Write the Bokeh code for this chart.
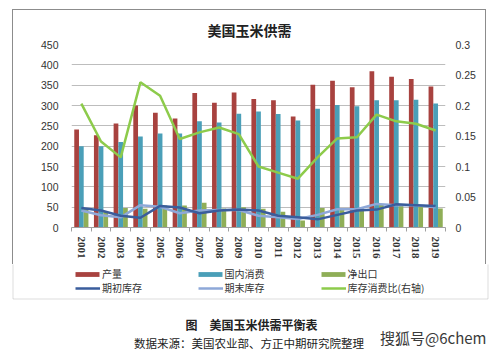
from bokeh.plotting import figure
from bokeh.models import (Range1d, LinearAxis, FixedTicker, NumeralTickFormatter, Label,
                          Legend, LegendItem, ColumnDataSource, BoxAnnotation)
from bokeh.transform import dodge
from bokeh.embed import file_html
from bokeh.resources import INLINE

# ---- data ----
years = ["2001", "2002", "2003", "2004", "2005", "2006", "2007", "2008", "2009", "2010",
         "2011", "2012", "2013", "2014", "2015", "2016", "2017", "2018", "2019"]
production = [241, 227, 256, 300, 282, 268, 331, 307, 332, 316, 313, 273, 351, 361, 345, 384, 371, 365, 347]
consumption = [200, 200, 210, 224, 231, 231, 261, 258, 280, 285, 279, 263, 292, 301, 298, 313, 313, 314, 305]
net_exports = [48, 40, 48, 46, 54, 54, 61, 47, 50, 46, 39, 17, 48, 46, 47, 57, 58, 51, 47]
begin_stocks = [48, 42, 29, 24, 53, 49, 35, 42, 44, 42, 29, 25, 20, 31, 42, 44, 57, 55, 53]
end_stocks = [42, 30, 25, 55, 51, 35, 42, 43, 43, 29, 25, 21, 31, 45, 45, 58, 55, 55, 50]
stock_ratio = [0.203, 0.141, 0.115, 0.238, 0.216, 0.145, 0.156, 0.164, 0.153, 0.100,
               0.090, 0.080, 0.115, 0.146, 0.148, 0.185, 0.174, 0.170, 0.159]
left_ticks = [0, 50, 100, 150, 200, 250, 300, 350, 400, 450]
right_ticks = [0, 0.05, 0.1, 0.15, 0.2, 0.25, 0.3]
series_names = ["产量", "国内消费", "净出口", "期初库存", "期末库存", "库存消费比(右轴)"]

idx = list(range(len(years)))
src = ColumnDataSource(dict(x=idx, production=production, consumption=consumption,
                            net_exports=net_exports, begin=begin_stocks, end=end_stocks,
                            ratio=stock_ratio))

RED = "#A8423F"
TEAL = "#4A9FB8"
OLIVE = "#8FAE57"
DBLUE = "#3A5D9C"
LBLUE = "#8EA8D8"
LGREEN = "#8DCB4B"
BORDER = "#8C8C8C"
TXT = "#333333"
NUMFONT = "Liberation Sans"
CJK = "Noto Sans CJK SC"

# ---------------- chart (upper part of the grey box) ----------------
p = figure(width=474, height=255, output_backend="svg", toolbar_location=None,
           x_range=Range1d(-0.5, len(years) - 0.5), y_range=Range1d(0, 450),
           min_border_left=58, min_border_right=42, min_border_top=34, min_border_bottom=38,
           styles={"border-top": "1px solid " + BORDER, "border-left": "1px solid " + BORDER,
                   "border-right": "1px solid " + BORDER},
           margin=(9, 0, 0, 12))
p.extra_y_ranges = {"r": Range1d(0, 0.3)}
p.outline_line_color = None
p.background_fill_color = "white"
p.border_fill_color = "white"

p.title.text = "美国玉米供需"
p.title.align = "left"
p.title.offset = 136
p.title.standoff = 9
p.title.text_font = CJK
p.title.text_font_size = "14px"
p.title.text_font_style = "bold"
p.title.text_color = "#222222"

ax = p.yaxis[0]
ax.ticker = FixedTicker(ticks=left_ticks)
ax.axis_line_color = None
ax.major_tick_line_color = None
ax.minor_tick_line_color = None
ax.major_tick_out = 0
ax.major_label_standoff = 13
ax.major_label_text_font = NUMFONT
ax.major_label_text_font_size = "10.5px"
ax.major_label_text_color = TXT

rax = LinearAxis(y_range_name="r", ticker=FixedTicker(ticks=right_ticks),
                 formatter=NumeralTickFormatter(format="0.[00]"))
rax.axis_line_color = None
rax.major_tick_line_color = None
rax.minor_tick_line_color = None
rax.major_tick_out = 0
rax.major_label_standoff = 10
rax.major_label_text_font = NUMFONT
rax.major_label_text_font_size = "10.5px"
rax.major_label_text_color = TXT
p.add_layout(rax, "right")

bx = p.xaxis[0]
bx.ticker = FixedTicker(ticks=idx, minor_ticks=[i - 0.5 for i in range(len(years) + 1)])
bx.major_label_overrides = {i: y for i, y in zip(idx, years)}
bx.major_label_orientation = "vertical"
bx.major_tick_line_color = None
bx.major_tick_out = 0
bx.major_tick_in = 0
bx.minor_tick_line_color = "#A0A0A0"
bx.minor_tick_out = 4
bx.minor_tick_in = 0
bx.axis_line_color = "#A0A0A0"
bx.major_label_standoff = 5
bx.major_label_text_font = "Liberation Serif"
bx.major_label_text_font_style = "bold"
bx.major_label_text_font_size = "11px"
bx.major_label_text_color = TXT

p.xgrid.visible = False
p.ygrid.ticker = FixedTicker(ticks=left_ticks)
p.ygrid.grid_line_color = "#BDBDBD"

p.vbar(x=dodge("x", -0.24, range=p.x_range), top="production", width=0.24,
       source=src, fill_color=RED, line_color=None)
p.vbar(x=dodge("x", 0.0, range=p.x_range), top="consumption", width=0.24,
       source=src, fill_color=TEAL, line_color=None)
p.vbar(x=dodge("x", 0.24, range=p.x_range), top="net_exports", width=0.24,
       source=src, fill_color=OLIVE, line_color=None)
p.line("x", "end", source=src, line_color=LBLUE, line_width=2.5)
p.line("x", "begin", source=src, line_color=DBLUE, line_width=2.5)
p.line("x", "ratio", source=src, y_range_name="r", line_color=LGREEN, line_width=2.5)

# ---------------- lower part: legend, box bottom, captions ----------------
c = figure(width=500, height=89, output_backend="svg", toolbar_location=None,
           x_range=Range1d(0, 500), y_range=Range1d(0, 89),
           x_axis_location=None, y_axis_location=None,
           min_border=0, min_border_left=0, min_border_right=0, min_border_top=0,
           min_border_bottom=0)
c.grid.visible = False
c.outline_line_color = None
c.background_fill_color = "white"
c.border_fill_color = "white"
# the legend keys reuse the series, drawn on ranges that keep them off this strip
c.extra_x_ranges = {"keys": Range1d(100, 118)}
c.extra_y_ranges = {"keys": Range1d(1000, 1450)}
kw = dict(source=src, x_range_name="keys", y_range_name="keys")
k_prod = c.vbar(x="x", top="production", width=0.24, fill_color=RED, line_color=None, **kw)
k_cons = c.vbar(x="x", top="consumption", width=0.24, fill_color=TEAL, line_color=None, **kw)
k_exp = c.vbar(x="x", top="net_exports", width=0.24, fill_color=OLIVE, line_color=None, **kw)
k_beg = c.line(x="x", y="begin", line_color=DBLUE, line_width=2.5, **kw)
k_end = c.line(x="x", y="end", line_color=LBLUE, line_width=2.5, **kw)
k_rat = c.line(x="x", y="ratio", line_color=LGREEN, line_width=2.5, **kw)

H = 89     # canvas height of this strip
TOP = 265  # page y of this strip's top
ITEM_H = 14

def add_key(label, rend, gx, row_y, kind):
    if kind == "bar":
        gw, gh, so, lx = 30, 6, 0, gx - 3
    else:
        gw, gh, so, lx = 25, 6, 2, gx
    lg = Legend(items=[LegendItem(label=label, renderers=[rend])],
                location=(lx, H - (row_y - TOP) - ITEM_H / 2), orientation="vertical",
                padding=0, margin=0, spacing=0, border_line_color=None,
                background_fill_alpha=0, glyph_width=gw, glyph_height=gh,
                label_standoff=so, label_height=12, label_text_font=CJK,
                label_text_font_size="10px", label_text_color=TXT)
    c.add_layout(lg, "center")

for lab, rend, gx, ry, kind in zip(series_names,
                                   [k_prod, k_cons, k_exp, k_beg, k_end, k_rat],
                                   [75, 197.5, 320.5, 75, 197.5, 320.5],
                                   [275, 275, 275, 289, 289, 289],
                                   ["bar", "bar", "bar", "line", "line", "line"]):
    add_key(lab, rend, gx, ry, kind)

# bottom part of the chart's grey box
c.add_layout(BoxAnnotation(left=12.5, right=487.5, bottom=H - (299.5 - TOP), top=H + 20,
                           fill_alpha=0, line_color=BORDER, line_width=1))

def cap(text, x, page_y, size, style="normal", align="center", color="#222222"):
    c.add_layout(Label(x=x, y=H - (page_y - TOP), text=text, text_font=CJK,
                       text_font_size=size, text_font_style=style, text_align=align,
                       text_baseline="middle", text_color=color))

cap("图\u3000美国玉米供需平衡表", 251, 325, "12px", style="bold")
cap("数据来源：美国农业部、方正中期研究院整理", 248.5, 343, "11.5px")
cap("搜狐号@6chem", 486, 338, "15px", align="right", color="#3a3a3a")

open("out.html", "w").write(file_html([p, c], INLINE))
